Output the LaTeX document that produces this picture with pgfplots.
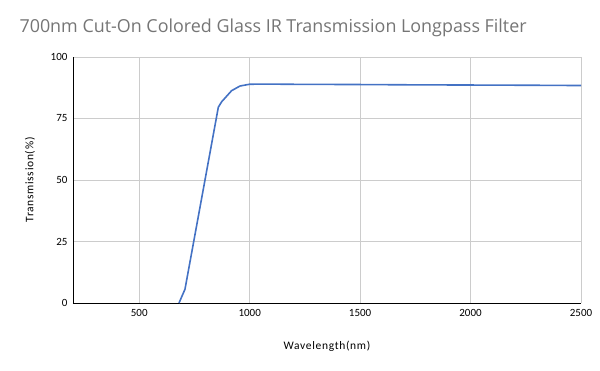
\documentclass[border=0pt]{standalone}
\usepackage{pgfplots}
\pgfplotsset{compat=1.18}
\usepackage{fontspec}
\setmainfont{Carlito}
\newfontfamily\titlefont{Open Sans}
\newfontfamily\labelfont[LetterSpace=6]{Carlito}
\definecolor{lineblue}{RGB}{68,114,196}
\definecolor{titlegray}{RGB}{117,117,117}
\begin{document}
\begin{tikzpicture}[x=1pt,y=1pt]
\useasboundingbox (-73,-68) rectangle (527,303);
\begin{axis}[
  at={(0,0)}, anchor=south west,
  scale only axis, width=508pt, height=246pt,
  xmin=200, xmax=2500, ymin=0, ymax=100,
  xtick={500,1000,1500,2000,2500},
  ytick={0,25,50,75,100},
  axis x line*=bottom, axis y line*=left,
  axis line style={-, black, line width=0.8pt},
  grid=major, major grid style={gray!40, line width=0.6pt},
  tick style={draw=none},
  /pgf/number format/assume math mode=true,
  /pgf/number format/1000 sep={},
  ticklabel style={font=\fontsize{11}{12}\selectfont, black},
  xticklabel style={yshift=-3pt},
  yticklabel style={xshift=-2pt},
  clip=false,
]
\addplot[lineblue, line width=1.6pt, line join=round] coordinates {
(680,0) (707,5.6) (858,79.6) (873,81.8) (918,86.3) (956,88.2) (998,88.9) (1050,89.0) (1200,88.9) (1500,88.8) (1700,88.7) (2000,88.6) (2300,88.5) (2500,88.4)
};
\end{axis}
\node[anchor=west, font=\titlefont\fontsize{17.9}{22}\selectfont, text=titlegray] at (-57,275) {700nm Cut-On Colored Glass IR Transmission Longpass Filter};
\node[font=\labelfont\fontsize{11.5}{13}\selectfont] at (254,-43) {Wavelength(nm)};
\node[font=\labelfont\fontsize{11.5}{13}\selectfont, rotate=90] at (-43,123) {Transmission(\%)};
\end{tikzpicture}
\end{document}
